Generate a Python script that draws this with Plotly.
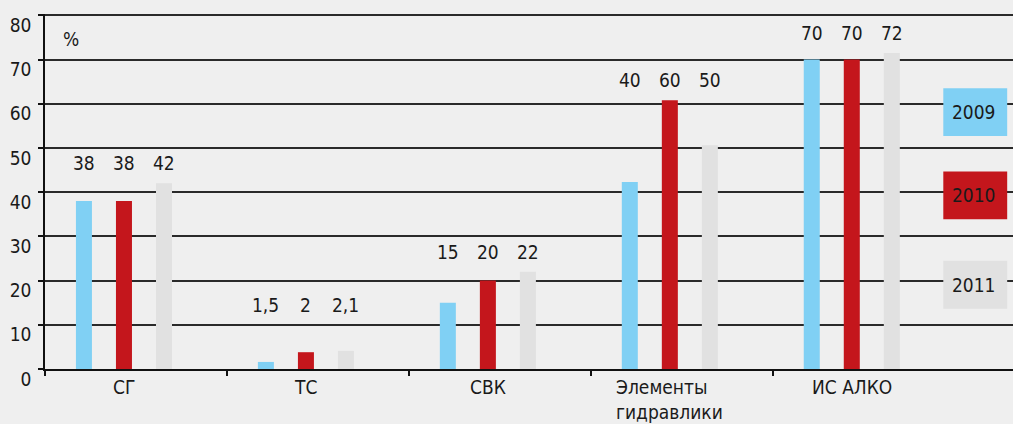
import plotly.graph_objects as go

# Data
categories = ["СГ", "ТС", "СВК", "Элементы<br>гидравлики", "ИС АЛКО"]
years = ["2009", "2010", "2011"]
values_2009 = [38, 1.6, 15, 42.3, 70]
values_2010 = [38, 3.8, 20, 60.8, 70]
values_2011 = [42, 4.1, 22, 50.6, 71.5]
labels_2009 = ["38", "1,5", "15", "40", "70"]
labels_2010 = ["38", "2", "20", "60", "70"]
labels_2011 = ["42", "2,1", "22", "50", "72"]
y_ticks = [0, 10, 20, 30, 40, 50, 60, 70, 80]

colors = ["#80d0f4", "#c4161c", "#e1e1e1"]
FONT = "DejaVu Sans Condensed, Liberation Sans Narrow, sans-serif"
TXT = "#1a1a1a"
series = [values_2009, values_2010, values_2011]
labels = [labels_2009, labels_2010, labels_2011]

# geometry in category units (one category = 1.0)
bar_w = 0.088
step = 0.22
shift = -0.066

fig = go.Figure()
xs = list(range(len(categories)))
for k, (yr, vals) in enumerate(zip(years, series)):
    fig.add_trace(go.Bar(
        x=xs, y=vals, name=yr,
        marker=dict(color=colors[k], line=dict(width=0)),
        width=bar_w,
        offset=shift + (k - 1) * step - bar_w / 2,
        hoverinfo="skip",
    ))

annotations = []
# value labels, one row per group above the tallest bar
for i in xs:
    top = max(max(s[i] for s in series), 10) + 4.5
    for k in range(3):
        annotations.append(dict(
            x=i + shift + (k - 1) * step, y=top, text=labels[k][i],
            showarrow=False, xref="x", yref="y",
            font=dict(family=FONT, size=19, color=TXT),
            xanchor="center", yanchor="middle",
        ))
    # category label under axis
    annotations.append(dict(
        x=i + shift, y=0, text=categories[i], showarrow=False,
        xref="x", yref="y", yanchor="top", yshift=-5,
        font=dict(family=FONT, size=19, color=TXT),
        align="left",
    ))

annotations.append(dict(
    x=0.027, y=0.93, xref="paper", yref="paper", text="%",
    showarrow=False, xanchor="center", yanchor="middle",
    font=dict(family=FONT, size=19, color=TXT),
))

# legend boxes on the right
shapes = []
box_y = [(0.656, 0.791), (0.422, 0.556), (0.170, 0.305)]
for k, yr in enumerate(years):
    y0, y1 = box_y[k]
    shapes.append(dict(type="rect", xref="paper", yref="paper",
                       x0=0.928, x1=0.994, y0=y0, y1=y1,
                       fillcolor=colors[k], line=dict(width=0), layer="above"))
    annotations.append(dict(
        x=0.984, y=(y0 + y1) / 2, xref="paper", yref="paper", text=yr,
        showarrow=False, xanchor="right", yanchor="middle",
        font=dict(family=FONT, size=19, color=TXT),
    ))

fig.update_layout(
    width=1013, height=424,
    margin=dict(l=45, r=0, t=14, b=55),
    paper_bgcolor="#efefef", plot_bgcolor="#efefef",
    showlegend=False,
    barmode="overlay",
    font=dict(family=FONT, size=19, color=TXT),
    annotations=annotations,
    shapes=shapes,
)
fig.update_xaxes(
    range=[-0.5, 4.82], showgrid=False, zeroline=False,
    showline=True, linecolor="#111", linewidth=1.5,
    tickmode="array", tickvals=[-0.5, 0.5, 1.5, 2.5, 3.5],
    ticktext=["", "", "", "", ""],
    ticks="outside", ticklen=5, tickcolor="#111", tickwidth=1.5,
    fixedrange=True,
)
fig.update_yaxes(
    range=[0, 80.3], tickvals=y_ticks,
    showgrid=True, gridcolor="#2a2a2a", gridwidth=1.5, zeroline=False,
    showline=True, linecolor="#111", linewidth=1.5, mirror=False,
    ticks="outside", ticklen=5, tickcolor="#111", tickwidth=1.5,
    ticklabelshift=10, ticklabelstandoff=3,
    tickfont=dict(family=FONT, size=19, color=TXT),
    fixedrange=True,
)

fig.write_html("out.html", config={"displayModeBar": False},
               post_script="document.body.style.margin='0';")
